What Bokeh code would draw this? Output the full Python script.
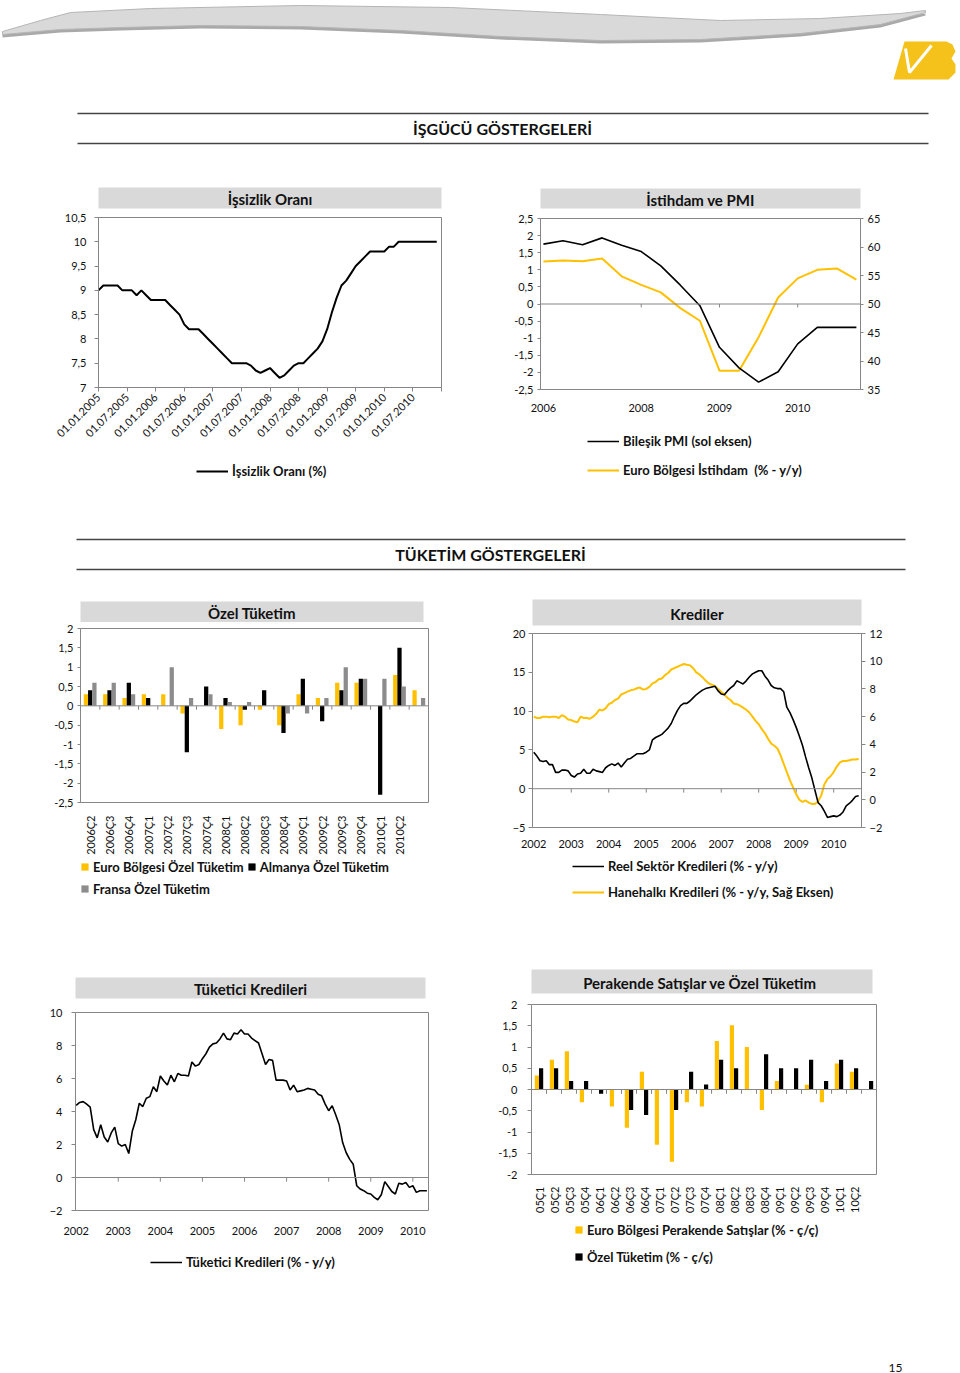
import numpy as np
from math import pi
from bokeh.plotting import figure
from bokeh.models import (Range1d, LinearAxis, FixedTicker, CustomJSTickFormatter,
                          Legend, LegendItem, Span)
from bokeh.layouts import column, row
from bokeh.embed import file_html
from bokeh.resources import INLINE
from bokeh.core.properties import value

# ---------------- DATA ----------------
# İşsizlik Oranı (monthly, Jan 2005 - Dec 2010)
unemp_rate = [9.0, 9.1, 9.1, 9.1, 9.1, 9.0, 9.0, 9.0, 8.9, 9.0, 8.9, 8.8,
              8.8, 8.8, 8.8, 8.7, 8.6, 8.5, 8.3, 8.2, 8.2, 8.2, 8.1, 8.0,
              7.9, 7.8, 7.7, 7.6, 7.5, 7.5, 7.5, 7.5, 7.45, 7.35, 7.3, 7.35,
              7.4, 7.3, 7.2, 7.25, 7.35, 7.45, 7.5, 7.5, 7.6, 7.7, 7.8, 7.95,
              8.2, 8.55, 8.85, 9.1, 9.2, 9.35, 9.5, 9.6, 9.7, 9.8, 9.8, 9.8,
              9.8, 9.9, 9.9, 10.0, 10.0, 10.0, 10.0, 10.0, 10.0, 10.0, 10.0, 10.0]
unemp_tick_labels = ["01.01.2005", "01.07.2005", "01.01.2006", "01.07.2006",
                     "01.01.2007", "01.07.2007", "01.01.2008", "01.07.2008",
                     "01.01.2009", "01.07.2009", "01.01.2010", "01.07.2010", ""]

# İstihdam ve PMI (quarterly)
pmi_composite = [60.5, 61.1, 60.4, 61.6, 60.3, 59.2, 56.7, 53.3, 49.7, 42.4,
                 38.8, 36.3, 38.1, 43.0, 45.9, 45.9, 45.9]
euro_employment = [1.24, 1.27, 1.25, 1.33, 0.81, 0.56, 0.34, -0.12, -0.49, -1.95,
                   -1.95, -0.97, 0.19, 0.75, 1.0, 1.04, 0.71]
pmi_tick_idx = [0, 5, 9, 13]
pmi_tick_labels = ["2006", "2008", "2009", "2010"]

# Özel Tüketim (quarterly)
cons_quarters = ["2006Ç2", "2006Ç3", "2006Ç4", "2007Ç1", "2007Ç2", "2007Ç3", "2007Ç4",
                 "2008Ç1", "2008Ç2", "2008Ç3", "2008Ç4", "2009Ç1", "2009Ç2", "2009Ç3",
                 "2009Ç4", "2010Ç1", "2010Ç2", ""]
cons_euro = [0.3, 0.3, 0.2, 0.3, 0.3, -0.2, 0.0, -0.6, -0.5, -0.1, -0.5, 0.3, 0.2, 0.6, 0.6, 0.0, 0.8, 0.4]
cons_germany = [0.4, 0.4, 0.6, 0.2, 0.0, -1.2, 0.5, 0.2, -0.1, 0.4, -0.7, 0.7, -0.4, 0.4, 0.7, -2.3, 1.5, 0.0]
cons_france = [0.6, 0.6, 0.3, 0.0, 1.0, 0.2, 0.3, 0.1, 0.1, 0.0, -0.2, -0.2, 0.2, 1.0, 0.7, 0.7, 0.5, 0.2]

# Krediler (monthly, Jan 2002 - Sep 2010)
real_sector_loans = [4.7, 4.2, 3.6, 3.5, 3.6, 3.1, 3.1, 2.1, 2.1, 2.4,
                     2.4, 2.3, 1.7, 1.5, 1.9, 2.0, 2.5, 2.0, 2.0, 2.5,
                     2.3, 2.2, 2.1, 2.7, 3.0, 3.2, 3.0, 3.3, 2.8, 3.3,
                     3.8, 3.9, 4.2, 4.5, 4.5, 4.5, 4.7, 5.0, 6.3, 6.6,
                     6.8, 7.0, 7.4, 7.8, 8.4, 9.3, 10.1, 10.7, 11.0, 11.0,
                     11.3, 11.7, 12.1, 12.4, 12.7, 12.9, 13.0, 13.1, 13.2, 12.6,
                     12.2, 12.1, 12.6, 13.0, 13.3, 13.9, 13.7, 13.5, 13.9, 14.4,
                     14.8, 15.0, 15.2, 15.2, 14.5, 14.0, 13.3, 13.0, 12.9, 12.9,
                     12.5, 10.5, 9.8, 8.9, 7.9, 6.8, 5.6, 4.1, 2.7, 1.4,
                     -0.2, -1.8, -2.2, -2.9, -3.7, -3.6, -3.5, -3.6, -3.4, -3.0,
                     -2.2, -1.9, -1.5, -1.0, -0.9]
household_loans = [6.0, 5.9, 5.9, 6.0, 6.0, 5.95, 6.0, 6.0, 5.9, 6.1,
                   6.0, 5.8, 5.75, 5.65, 5.6, 6.0, 5.9, 5.9, 5.85, 6.0,
                   6.2, 6.5, 6.45, 6.6, 6.9, 7.0, 7.2, 7.3, 7.6, 7.7,
                   7.8, 7.9, 7.95, 8.05, 8.1, 7.95, 8.0, 8.15, 8.4, 8.5,
                   8.7, 8.75, 9.0, 9.15, 9.4, 9.5, 9.6, 9.7, 9.8, 9.75,
                   9.7, 9.5, 9.2, 9.05, 8.85, 8.6, 8.4, 8.3, 8.2, 8.0,
                   7.8, 7.6, 7.35, 7.2, 6.95, 6.9, 6.8, 6.65, 6.5, 6.3,
                   6.0, 5.7, 5.45, 5.1, 4.8, 4.4, 4.05, 3.9, 3.7, 3.2,
                   2.6, 2.0, 1.4, 0.9, 0.4, 0.0, -0.15, -0.05, -0.2, -0.3,
                   -0.3, -0.1, 0.3, 1.1, 1.5, 1.7, 2.0, 2.4, 2.7, 2.8,
                   2.8, 2.85, 2.9, 2.9, 2.95]
year_labels = ["2002", "2003", "2004", "2005", "2006", "2007", "2008", "2009", "2010"]

# Tüketici Kredileri (monthly, Jan 2002 - May 2010)
consumer_loans = [4.37, 4.55, 4.6, 4.45, 4.27, 2.9, 2.4, 3.2, 2.45, 2.15,
                  2.7, 3.05, 2.05, 1.9, 2.0, 1.45, 2.8, 3.5, 4.5, 4.3,
                  4.8, 4.9, 5.5, 5.2, 6.15, 5.85, 5.6, 6.2, 5.8, 6.3,
                  6.2, 6.2, 6.15, 7.0, 6.75, 6.85, 7.2, 7.5, 7.9, 8.1,
                  8.15, 8.4, 8.75, 8.4, 8.35, 8.75, 8.7, 8.95, 8.7, 8.7,
                  8.45, 8.3, 8.15, 7.5, 6.85, 7.15, 7.1, 5.9, 5.9, 5.9,
                  5.85, 5.3, 5.6, 5.2, 5.25, 5.3, 5.4, 5.35, 5.3, 5.05,
                  4.95, 4.45, 4.05, 4.35, 3.8, 3.2, 2.1, 1.5, 1.1, 0.8,
                  -0.5, -0.7, -0.8, -0.95, -1.0, -1.2, -1.35, -1.05, -0.25, -0.55,
                  -0.85, -1.0, -0.35, -0.4, -0.3, -0.6, -0.5, -0.9, -0.8, -0.8,
                  -0.8]

# Perakende Satışlar ve Özel Tüketim (quarterly)
retail_quarters = ["05Ç1", "05Ç2", "05Ç3", "05Ç4", "06Ç1", "06Ç2", "06Ç3", "06Ç4",
                   "07Ç1", "07Ç2", "07Ç3", "07Ç4", "08Ç1", "08Ç2", "08Ç3", "08Ç4",
                   "09Ç1", "09Ç2", "09Ç3", "09Ç4", "10Ç1", "10Ç2", ""]
retail_sales = [0.33, 0.7, 0.9, -0.3, 0.0, -0.4, -0.9, 0.42, -1.3, -1.7, -0.3, -0.4,
                1.14, 1.51, 1.0, -0.48, 0.2, 0.0, 0.11, -0.3, 0.61, 0.42, 0.0]
private_cons = [0.5, 0.5, 0.2, 0.2, -0.1, 0.0, -0.48, -0.6, 0.0, -0.48, 0.42, 0.12,
                0.7, 0.5, 0.0, 0.83, 0.5, 0.5, 0.7, 0.2, 0.7, 0.5, 0.2]

# ---------------- STYLE ----------------
FONT = "Lato"
GREY = "#868686"
YEL = "#FFC000"
GBAR = "#8c8c8c"
BLACK = "#000000"
W = 480


def comma_fmt():
    return CustomJSTickFormatter(code="return tick.toString().replace('.', ',');")


def style_axis(ax, standoff=6, tick_out=4, size="11px"):
    ax.major_label_text_font = FONT
    ax.major_label_text_font_size = size
    ax.major_label_text_color = "#111111"
    ax.axis_line_color = GREY
    ax.major_tick_line_color = GREY
    ax.minor_tick_line_color = None
    ax.major_tick_out = tick_out
    ax.major_tick_in = 0
    ax.major_label_standoff = standoff


def hide_axis_line(ax):
    ax.axis_line_color = None
    ax.major_tick_line_color = None
    ax.major_tick_out = 0


def fig(w, h, left, right, top, bottom, xr, yr, axes=True):
    kw = {}
    if not axes:
        kw = dict(x_axis_location=None, y_axis_location=None)
    p = figure(frame_width=w - left - right, frame_height=h - top - bottom,
               x_range=xr, y_range=yr, output_backend="svg", toolbar_location=None,
               min_border_left=left, min_border_right=right,
               min_border_top=top, min_border_bottom=bottom, **kw)
    p.grid.visible = False
    p.background_fill_color = "white"
    p.border_fill_color = "white"
    p.outline_line_color = GREY if axes else None
    return p


def title_fig(h, text, box_left, box_right, top, bottom, size="15px"):
    # fixed overall size: the grey frame is the title box
    p = figure(width=W, height=h, x_range=Range1d(0, 1), y_range=Range1d(0, 1),
               output_backend="svg", toolbar_location=None,
               x_axis_location=None, y_axis_location=None,
               min_border_left=box_left, min_border_right=W - box_right,
               min_border_top=top, min_border_bottom=bottom)
    p.grid.visible = False
    p.outline_line_color = None
    p.border_fill_color = "white"
    p.background_fill_color = "#d9d9d9"
    p.text(x=[0.5], y=[0.45], text=[text], text_align="center", text_baseline="middle",
           text_font=value(FONT), text_font_style="bold", text_font_size=size,
           text_color="#111111")
    return p


def deco_fig(h):
    return fig(960, h, 0, 0, 0, 0, Range1d(0, 960), Range1d(h, 0), axes=False)


def legend_fig(h, lr, dx, top_y, entries, kind="line", orientation="vertical", spacing=6,
               label_h=20, glyph_w=32, glyph_h=20):
    p = fig(W, h, lr[0], lr[1], 0, 0, Range1d(0, 1), Range1d(0, 1), axes=False)
    items = []
    for label, color, lw in entries:
        # off-screen placeholder glyph: only used to draw the legend swatch
        if kind == "line":
            r = p.line(x=[-5, -4], y=[-5, -5], line_color=color, line_width=lw)
        else:
            r = p.vbar(x=[-5], top=[-5], width=0.5, fill_color=color, line_color=None)
        items.append(LegendItem(label=label, renderers=[r]))
    nrows = 1 if orientation == "horizontal" else len(entries)
    leg_h = nrows * label_h + (nrows - 1) * spacing
    leg = Legend(items=items, location=(dx, h - top_y - leg_h), orientation=orientation,
                 border_line_color=None, background_fill_alpha=0,
                 label_text_font=FONT, label_text_font_style="bold",
                 label_text_font_size="13px", label_text_color="#111111",
                 glyph_width=glyph_w, glyph_height=glyph_h, label_height=label_h,
                 label_standoff=4, spacing=spacing, margin=0, padding=0)
    p.add_layout(leg)
    return p


def zero_ticks(p, xs, d):
    xs = list(xs)
    p.segment(x0=xs, y0=[0] * len(xs), x1=xs, y1=[-d] * len(xs), line_color=GREY, line_width=1)


# ---------------- HEADER 1 ----------------
hdr1 = deco_fig(165)
sw_top_x = [2, 40, 70, 150, 300, 450, 600, 720, 820, 900, 925]
sw_top_y = [31, 20, 12, 8, 5, 7, 14, 20, 18, 13, 10]
sw_bot_x = [925, 880, 800, 700, 600, 500, 400, 300, 200, 120, 60, 2]
sw_bot_y = [12, 24, 33, 39, 40, 36, 30, 26, 25, 27, 29, 34]
hdr1.patch(x=sw_top_x + sw_bot_x, y=[v + 3 for v in sw_top_y] + [v + 3 for v in sw_bot_y],
           fill_color="#a9a9a9", line_color=None)
hdr1.patch(x=sw_top_x + sw_bot_x, y=sw_top_y + sw_bot_y, fill_color="#d9d9d9",
           line_color="#b5b5b5", line_width=1)
hdr1.patch(x=[904, 946, 952, 955, 951, 955, 955, 948, 893],
           y=[41, 41, 44, 51, 58, 64, 72, 79, 79], fill_color="#F5C21B", line_color=None)
hdr1.line(x=[905, 909, 931], y=[48, 72, 45], line_color="white", line_width=3)
hdr1.line(x=[77, 928], y=[113, 113], line_color="#444444", line_width=1.5)
hdr1.line(x=[77, 928], y=[143, 143], line_color="#444444", line_width=1.5)
hdr1.text(x=[502], y=[128], text=["İŞGÜCÜ GÖSTERGELERİ"], text_align="center",
          text_baseline="middle", text_font=value(FONT), text_font_style="bold",
          text_font_size="16px", text_color="#111111")

# ---------------- CHART 1: İşsizlik Oranı ----------------
LR1 = (98, 39)
t1 = title_fig(44, "İşsizlik Oranı", 85, 442, 22, 1)
p1 = fig(W, 246, LR1[0], LR1[1], 8, 68, Range1d(0, 72), Range1d(7, 10.5))
p1.line(x=list(range(len(unemp_rate))), y=unemp_rate, line_color=BLACK, line_width=2)
style_axis(p1.yaxis[0], standoff=8)
p1.yaxis.ticker = FixedTicker(ticks=[7, 7.5, 8, 8.5, 9, 9.5, 10, 10.5])
p1.yaxis.formatter = comma_fmt()
style_axis(p1.xaxis[0], standoff=4)
ticks1 = [6 * i for i in range(len(unemp_tick_labels))]
p1.xaxis.ticker = FixedTicker(ticks=ticks1)
p1.xaxis.major_label_overrides = {t: l for t, l in zip(ticks1, unemp_tick_labels)}
p1.xaxis.major_label_orientation = pi / 4
l1 = legend_fig(50, LR1, 98, 6, [("İşsizlik Oranı (%)", BLACK, 2)])

# ---------------- CHART 2: İstihdam ve PMI ----------------
LR2 = (60, 100)
t2 = title_fig(44, "İstihdam ve PMI", 56, 386, 23, 1)
p2 = fig(W, 221, LR2[0], LR2[1], 9, 41, Range1d(-0.15, 16.21), Range1d(-2.5, 2.5))
p2.extra_y_ranges = {"pmi": Range1d(35, 65)}
p2.add_layout(Span(location=0, dimension="width", line_color=GREY, line_width=1))
zero_ticks(p2, pmi_tick_idx[1:], 0.1)
qx = list(range(len(pmi_composite)))
p2.line(x=qx, y=euro_employment, line_color=YEL, line_width=2)
p2.line(x=qx, y=pmi_composite, line_color=BLACK, line_width=1.6, y_range_name="pmi")
style_axis(p2.yaxis[0], standoff=4, tick_out=3)
p2.yaxis.ticker = FixedTicker(ticks=[-2.5, -2, -1.5, -1, -0.5, 0, 0.5, 1, 1.5, 2, 2.5])
p2.yaxis.formatter = comma_fmt()
ax2r = LinearAxis(y_range_name="pmi", ticker=FixedTicker(ticks=[35, 40, 45, 50, 55, 60, 65]))
style_axis(ax2r, standoff=4, tick_out=3)
p2.add_layout(ax2r, "right")
style_axis(p2.xaxis[0], standoff=14)
hide_axis_line(p2.xaxis[0])
p2.xaxis.ticker = FixedTicker(ticks=pmi_tick_idx)
p2.xaxis.major_label_overrides = {t: l for t, l in zip(pmi_tick_idx, pmi_tick_labels)}
l2 = legend_fig(75, LR2, 47, 1, [("Bileşik PMI (sol eksen)", BLACK, 1.6),
                                 ("Euro Bölgesi İstihdam  (% - y/y)", YEL, 2)], spacing=9)

# ---------------- HEADER 2 ----------------
hdr2 = deco_fig(85)
hdr2.line(x=[76, 905], y=[34, 34], line_color="#444444", line_width=1.5)
hdr2.line(x=[76, 905], y=[64, 64], line_color="#444444", line_width=1.5)
hdr2.text(x=[490], y=[49], text=["TÜKETİM GÖSTERGELERİ"], text_align="center",
          text_baseline="middle", text_font=value(FONT), text_font_style="bold",
          text_font_size="16px", text_color="#111111")

# ---------------- CHART 3: Özel Tüketim ----------------
LR3 = (80, 52)
t3 = title_fig(32, "Özel Tüketim", 74, 423, 11, 0)
n3 = len(cons_quarters)
p3 = fig(W, 234, LR3[0], LR3[1], 6, 54, Range1d(-0.5, n3 - 0.5), Range1d(-2.5, 2))
idx3 = np.arange(n3)
p3.add_layout(Span(location=0, dimension="width", line_color=GREY, line_width=1))
zero_ticks(p3, idx3[:-1] + 0.5, 0.1)
bw3 = 0.22
p3.vbar(x=idx3 - bw3, top=cons_euro, width=bw3, fill_color=YEL, line_color=None)
p3.vbar(x=idx3, top=cons_germany, width=bw3, fill_color=BLACK, line_color=None)
p3.vbar(x=idx3 + bw3, top=cons_france, width=bw3, fill_color=GBAR, line_color=None)
style_axis(p3.yaxis[0], standoff=4, tick_out=3)
p3.yaxis.ticker = FixedTicker(ticks=[-2.5, -2, -1.5, -1, -0.5, 0, 0.5, 1, 1.5, 2])
p3.yaxis.formatter = comma_fmt()
style_axis(p3.xaxis[0], standoff=13)
hide_axis_line(p3.xaxis[0])
p3.xaxis.ticker = FixedTicker(ticks=list(range(n3)))
p3.xaxis.major_label_overrides = {i: l for i, l in enumerate(cons_quarters)}
p3.xaxis.major_label_orientation = pi / 2
l3a = legend_fig(20, LR3, 0, 1, [("Euro Bölgesi Özel Tüketim", YEL, 1), ("Almanya Özel Tüketim", BLACK, 1)],
                 kind="bar", orientation="horizontal", spacing=3, label_h=17, glyph_w=9, glyph_h=9)
l3b = legend_fig(44, LR3, 0, 3, [("Fransa Özel Tüketim", GBAR, 1)],
                 kind="bar", label_h=17, glyph_w=9, glyph_h=9)

# ---------------- CHART 4: Krediler ----------------
LR4 = (52, 99)
t4 = title_fig(36, "Krediler", 43, 384, 9, 1)
n4 = len(real_sector_loans)
p4 = fig(W, 229, LR4[0], LR4[1], 7, 28, Range1d(-0.4, 104.9), Range1d(-5, 20))
p4.extra_y_ranges = {"hh": Range1d(-2, 12)}
p4.add_layout(Span(location=0, dimension="width", line_color=GREY, line_width=1))
yt4 = [12 * i for i in range(len(year_labels))]
zero_ticks(p4, yt4[1:], 0.5)
p4.line(x=list(range(len(household_loans))), y=household_loans, line_color=YEL,
        line_width=2, y_range_name="hh")
p4.line(x=list(range(n4)), y=real_sector_loans, line_color=BLACK, line_width=1.6)
style_axis(p4.yaxis[0], standoff=3, tick_out=4)
p4.yaxis.ticker = FixedTicker(ticks=[-5, 0, 5, 10, 15, 20])
ax4r = LinearAxis(y_range_name="hh", ticker=FixedTicker(ticks=[-2, 0, 2, 4, 6, 8, 10, 12]))
style_axis(ax4r, standoff=4, tick_out=4)
p4.add_layout(ax4r, "right")
style_axis(p4.xaxis[0], standoff=12)
hide_axis_line(p4.xaxis[0])
p4.xaxis.ticker = FixedTicker(ticks=yt4)
p4.xaxis.major_label_overrides = {t: l for t, l in zip(yt4, year_labels)}
l4 = legend_fig(65, LR4, 40, 1, [("Reel Sektör Kredileri (% - y/y)", BLACK, 1.6),
                                 ("Hanehalkı Kredileri (% - y/y, Sağ Eksen)", YEL, 2)], spacing=6)

# ---------------- CHART 5: Tüketici Kredileri ----------------
LR5 = (75, 52)
t5 = title_fig(78, "Tüketici Kredileri", 69, 425, 56, 1)
p5 = fig(W, 244, LR5[0], LR5[1], 13, 33, Range1d(-0.19, 100.46), Range1d(-2, 10))
p5.add_layout(Span(location=0, dimension="width", line_color=GREY, line_width=1))
zero_ticks(p5, yt4[1:], 0.25)
p5.line(x=list(range(len(consumer_loans))), y=consumer_loans, line_color=BLACK, line_width=1.6)
style_axis(p5.yaxis[0], standoff=9, tick_out=4)
p5.yaxis.ticker = FixedTicker(ticks=[-2, 0, 2, 4, 6, 8, 10])
style_axis(p5.xaxis[0], standoff=16)
hide_axis_line(p5.xaxis[0])
p5.xaxis.ticker = FixedTicker(ticks=yt4)
p5.xaxis.major_label_overrides = {t: l for t, l in zip(yt4, year_labels)}
l5 = legend_fig(48, LR5, 75, 9, [("Tüketici Kredileri (% - y/y)", BLACK, 1.6)])

# ---------------- CHART 6: Perakende Satışlar ve Özel Tüketim ----------------
LR6 = (51, 84)
t6 = title_fig(74, "Perakende Satışlar  ve Özel Tüketim", 48, 392, 48, 2)
n6 = len(retail_quarters)
p6 = fig(W, 224, LR6[0], LR6[1], 9, 45, Range1d(-0.5, n6 - 0.5), Range1d(-2, 2))
idx6 = np.arange(n6)
p6.add_layout(Span(location=0, dimension="width", line_color=GREY, line_width=1))
zero_ticks(p6, idx6[:-1] + 0.5, 0.1)
bw6 = 0.28
p6.vbar(x=idx6 - bw6 / 2, top=retail_sales, width=bw6, fill_color=YEL, line_color=None)
p6.vbar(x=idx6 + bw6 / 2, top=private_cons, width=bw6, fill_color=BLACK, line_color=None)
style_axis(p6.yaxis[0], standoff=10, tick_out=4)
p6.yaxis.ticker = FixedTicker(ticks=[-2, -1.5, -1, -0.5, 0, 0.5, 1, 1.5, 2])
p6.yaxis.formatter = comma_fmt()
style_axis(p6.xaxis[0], standoff=12)
hide_axis_line(p6.xaxis[0])
p6.xaxis.ticker = FixedTicker(ticks=list(range(n6)))
p6.xaxis.major_label_overrides = {i: l for i, l in enumerate(retail_quarters)}
p6.xaxis.major_label_orientation = pi / 2
l6 = legend_fig(72, LR6, 43, 2, [("Euro Bölgesi Perakende Satışlar (% - ç/ç)", YEL, 1),
                                 ("Özel Tüketim (% - ç/ç)", BLACK, 1)],
                kind="bar", spacing=10, label_h=17, glyph_w=9, glyph_h=9)

# ---------------- FOOTER ----------------
ftr = deco_fig(83)
ftr.text(x=[895], y=[76], text=["15"], text_align="center", text_baseline="middle",
         text_font=value(FONT), text_font_size="12px", text_color="#111111")

layout = column(
    hdr1,
    row(column(t1, p1, l1), column(t2, p2, l2)),
    hdr2,
    row(column(t3, p3, l3a, l3b), column(t4, p4, l4)),
    row(column(t5, p5, l5), column(t6, p6, l6)),
    ftr,
)

open("out.html", "w", encoding="utf-8").write(file_html(layout, INLINE))
